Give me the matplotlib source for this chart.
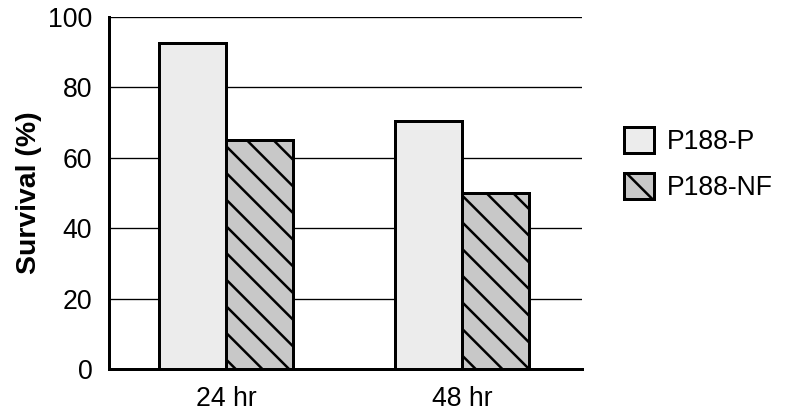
import numpy as np
import matplotlib
matplotlib.use("Agg")
import matplotlib.pyplot as plt

DPI = 160
k = 120 / DPI  # keep sizes in pixels as tuned at 120 dpi

plt.rcParams['font.family'] = ['Liberation Sans', 'DejaVu Sans']
plt.rcParams['hatch.linewidth'] = 1.5 * k

groups = ['24 hr', '48 hr']
series = ['P188-P', 'P188-NF']
p188_p = [92.5, 70.5]
p188_nf = [65, 50]

fig = plt.figure(figsize=(786 / DPI, 418 / DPI), dpi=DPI)
ax = fig.add_axes([109 / 786, 1 - 369 / 418, (582 - 109) / 786, (369 - 17) / 418])

x = np.arange(len(groups))
w = 0.283
ax.bar(x - w / 2, p188_p, w, color='#ececec', edgecolor='black', linewidth=1.8 * k,
       label=series[0], zorder=3)
ax.bar(x + w / 2, p188_nf, w, color='#c8c8c8', edgecolor='black', linewidth=1.8 * k,
       hatch='\\\\', label=series[1], zorder=3)

ax.set_xlim(-0.496, 1.508)
ax.set_ylim(0, 100)
ax.set_yticks(np.arange(0, 101, 20))
ax.set_xticks(x)
ax.set_xticklabels(groups)
ax.yaxis.grid(True, color='black', linewidth=0.8 * k, zorder=0)
ax.set_axisbelow(True)

for s in ['top', 'right']:
    ax.spines[s].set_visible(False)
for s in ['left', 'bottom']:
    ax.spines[s].set_linewidth(1.8 * k)
ax.tick_params(axis='both', length=0, labelsize=16 * k, pad=10 * k)
ax.set_ylabel('Survival (%)', fontsize=17 * k, fontweight='bold')
ax.yaxis.set_label_coords(-(109 - 42) / 473, 0.5)

fig.legend(loc='center left', bbox_to_anchor=(624 / 786, 1 - 164 / 418), frameon=False,
           fontsize=16 * k, handlelength=1.12, handleheight=1.12, labelspacing=0.67,
           handletextpad=0.5, borderpad=0, borderaxespad=0)

fig.savefig('out.png', dpi=DPI)
